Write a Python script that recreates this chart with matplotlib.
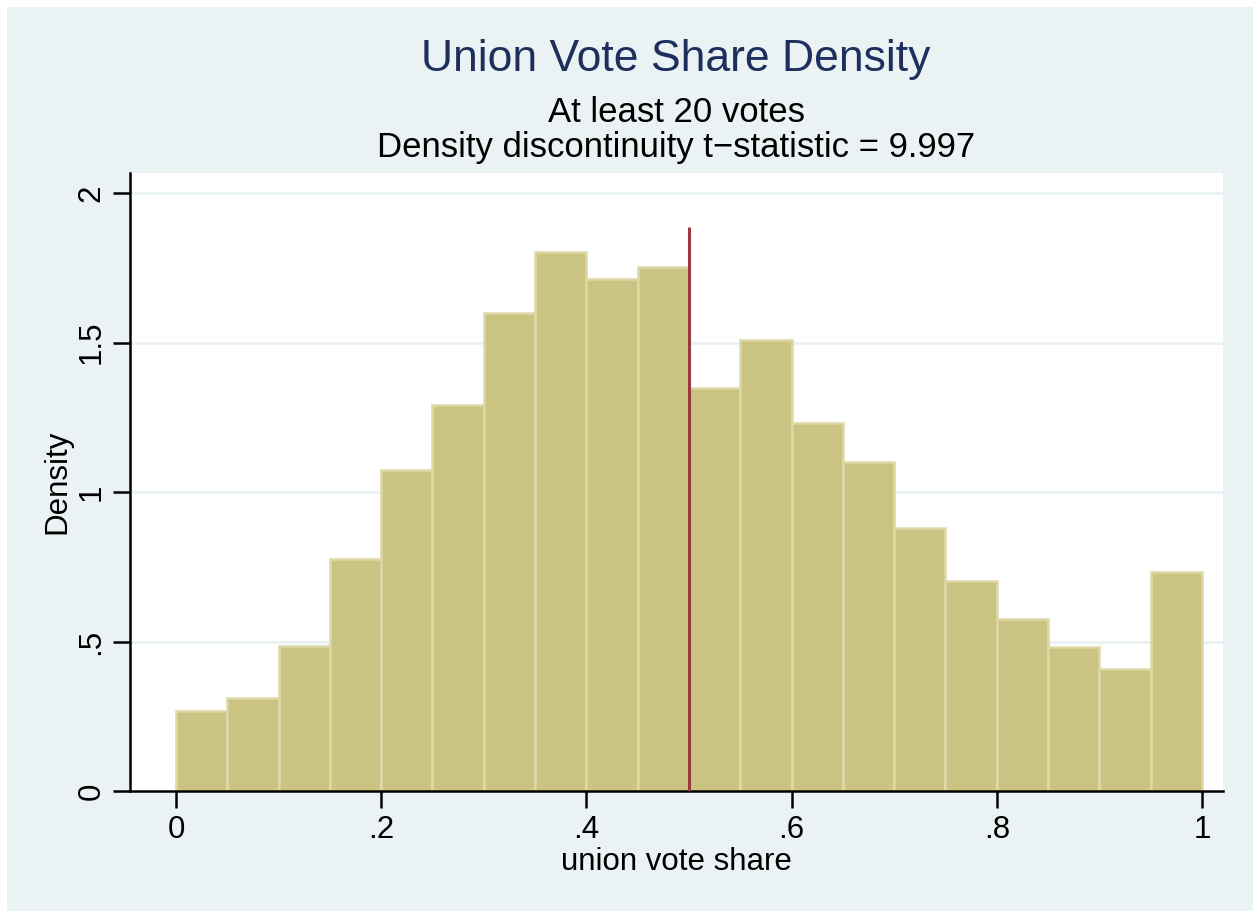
import matplotlib
matplotlib.use("Agg")
import matplotlib.pyplot as plt
import numpy as np
from matplotlib.patches import Rectangle

plt.rcParams['font.family'] = ['Liberation Sans', 'DejaVu Sans']

bin_edges = [0.00, 0.05, 0.10, 0.15, 0.20, 0.25, 0.30, 0.35, 0.40, 0.45, 0.50,
             0.55, 0.60, 0.65, 0.70, 0.75, 0.80, 0.85, 0.90, 0.95, 1.00]
densities = [0.268, 0.311, 0.485, 0.776, 1.074, 1.291, 1.599, 1.803, 1.712, 1.753,
             1.348, 1.508, 1.231, 1.100, 0.880, 0.702, 0.575, 0.482, 0.408, 0.732]
cutoff = 0.5
cutoff_height = 1.886
x_ticks = [0, 0.2, 0.4, 0.6, 0.8, 1.0]
x_ticklabels = ['0', '.2', '.4', '.6', '.8', '1']
y_ticks = [0, 0.5, 1.0, 1.5, 2.0]
y_ticklabels = ['0', '.5', '1', '1.5', '2']
title = "Union Vote Share Density"
subtitle1 = "At least 20 votes"
subtitle2 = "Density discontinuity t\u2212statistic = 9.997"

W, H = 1253, 911
bg = '#EAF2F3'
fig = plt.figure(figsize=(W / 100, H / 100), dpi=100, facecolor=bg)
# white margin on top and left
fig.patches.append(Rectangle((0, 1 - 7 / H), 1, 7 / H, transform=fig.transFigure,
                             facecolor='white', edgecolor='none', zorder=-10))
fig.patches.append(Rectangle((0, 0), 7 / W, 1, transform=fig.transFigure,
                             facecolor='white', edgecolor='none', zorder=-10))

left, right, bottom, top = 130 / W, 1223 / W, (H - 791) / H, (H - 173) / H
ax = fig.add_axes([left, bottom, right - left, top - bottom])
ax.set_facecolor('white')

widths = np.diff(bin_edges)
ax.bar(bin_edges[:-1], densities, width=widths, align='edge',
       color='#CBC382', edgecolor='#DDD8A6', linewidth=1.8, zorder=2)
ax.vlines(cutoff, 0, cutoff_height, color='#9A3A40', linewidth=2.2, zorder=3)

ax.set_xlim(-0.0448, 1.0205)
ax.set_ylim(0, 2.067)

ax.set_yticks(y_ticks)
ax.set_yticklabels(y_ticklabels, rotation=90, va='center', fontsize=22.5)
ax.set_xticks(x_ticks)
ax.set_xticklabels(x_ticklabels, fontsize=22.5)
ax.tick_params(axis='both', length=12, width=1.8, color='black', pad=5)
for yv in y_ticks[1:]:
    ax.axhline(yv, color=bg, linewidth=2, zorder=1)

for s in ['top', 'right']:
    ax.spines[s].set_visible(False)
for s in ['left', 'bottom']:
    ax.spines[s].set_linewidth(1.8)
    ax.spines[s].set_color('black')

ax.set_xlabel('union vote share', fontsize=22.5, labelpad=2)
ax.set_ylabel('Density', fontsize=22.5, labelpad=3)

fig.text(676 / W, 1 - 60 / H, title, ha='center', va='center', fontsize=32, color='#1E2F5E')
fig.text(676 / W, 1 - 112 / H, subtitle1, ha='center', va='center', fontsize=25)
fig.text(676 / W, 1 - 147 / H, subtitle2, ha='center', va='center', fontsize=25)

fig.savefig('out.png', dpi=100, facecolor=bg)
